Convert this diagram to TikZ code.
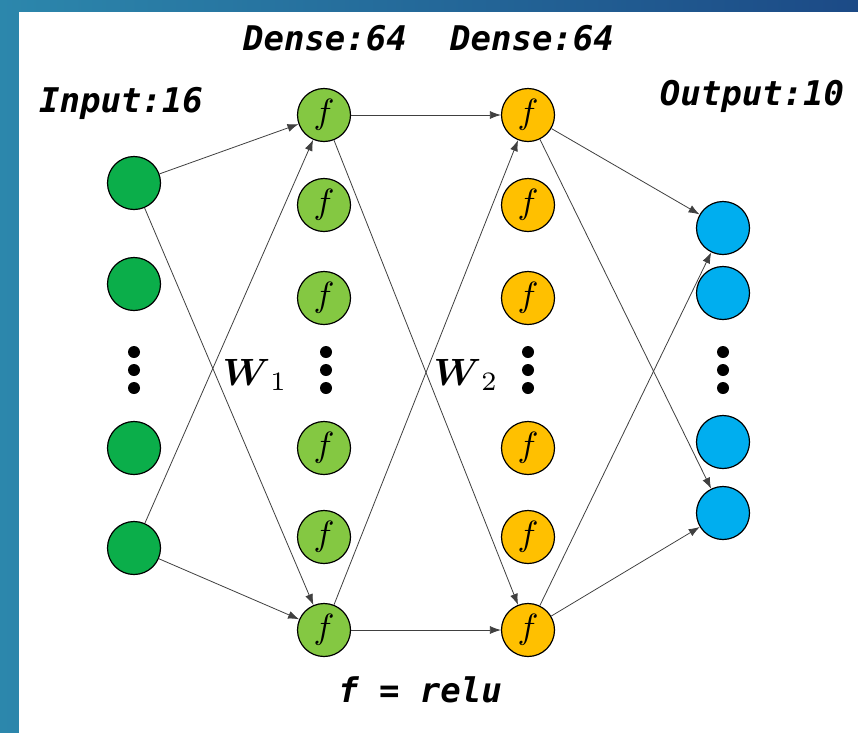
\documentclass[tikz,border=0pt]{standalone}
\usepackage{fontspec}
\usepackage{amsmath}
\usepackage{amssymb}
\usepackage{graphicx}
\usepackage{tikz}
\usetikzlibrary{arrows.meta}
\newfontfamily\codefont{DejaVu Sans Mono}
\newcommand{\act}{\scalebox{3.5}{$f$}}
\definecolor{inGreen}{HTML}{0BAE4A}
\definecolor{hidGreen}{HTML}{84C842}
\definecolor{hidGold}{HTML}{FFC000}
\definecolor{outBlue}{HTML}{00AEEF}
\definecolor{bgTeal}{HTML}{2C87AC}
\definecolor{bgNavy}{HTML}{1C4A86}

\begin{document}
\begin{tikzpicture}[x=1pt, y=-1pt,
                   unit/.style={circle, draw=black, line width=1.2pt, minimum size=53pt, inner sep=0pt},
                   title/.style={font=\codefont\bfseries\itshape\fontsize{34}{40}\selectfont},
                   conn/.style={-{Latex[length=11pt, width=8pt]}, draw=black!75, line width=0.8pt}]
\useasboundingbox (0,0) rectangle (858,732);
\shade[left color=bgTeal, right color=bgNavy] (0,0) rectangle (858,732);
\fill[white] (19,12) rectangle (862,736);

\node[unit, fill=inGreen] (i1) at (134,183) {};
\node[unit, fill=inGreen] (i2) at (134,284) {};
\node[unit, fill=inGreen] (i3) at (134,448) {};
\node[unit, fill=inGreen] (i4) at (134,548) {};

\node[unit, fill=hidGreen] (h1) at (324,115) {\act};
\node[unit, fill=hidGreen] (h2) at (324,205) {\act};
\node[unit, fill=hidGreen] (h3) at (324,298) {\act};
\node[unit, fill=hidGreen] (h4) at (324,448) {\act};
\node[unit, fill=hidGreen] (h5) at (324,537) {\act};
\node[unit, fill=hidGreen] (h6) at (324,630) {\act};

\node[unit, fill=hidGold] (g1) at (528,115) {\act};
\node[unit, fill=hidGold] (g2) at (528,205) {\act};
\node[unit, fill=hidGold] (g3) at (528,298) {\act};
\node[unit, fill=hidGold] (g4) at (528,448) {\act};
\node[unit, fill=hidGold] (g5) at (528,537) {\act};
\node[unit, fill=hidGold] (g6) at (528,630) {\act};

\node[unit, fill=outBlue] (o1) at (723,228) {};
\node[unit, fill=outBlue] (o2) at (723,293) {};
\node[unit, fill=outBlue] (o3) at (723,442) {};
\node[unit, fill=outBlue] (o4) at (723,513) {};

\foreach \x in {134,326,528,723}
  \foreach \y in {352,370,388}
    \fill (\x,\y) circle (6);

\node[title] (inLab) at (121,103) {Input:16};
\node[title] (d1Lab) at (325,38) {Dense:64};
\node[title] (d2Lab) at (532,38) {Dense:64};
\node[title] (outLab) at (752,96) {Output:10};
\node[title] (actLab) at (420,690) {f = relu};

\node (w1) at (255,375) {\scalebox{3.8}{$\boldsymbol{W}_1$}};
\node (w2) at (466,375) {\scalebox{3.8}{$\boldsymbol{W}_2$}};

\draw[conn] (i1) -- (h1);
\draw[conn] (i1) -- (h6);
\draw[conn] (i4) -- (h1);
\draw[conn] (i4) -- (h6);

\draw[conn] (h1) -- (g1);
\draw[conn] (h1) -- (g6);
\draw[conn] (h6) -- (g1);
\draw[conn] (h6) -- (g6);

\draw[conn] (g1) -- (o1);
\draw[conn] (g1) -- (o4);
\draw[conn] (g6) -- (o1);
\draw[conn] (g6) -- (o4);
\end{tikzpicture}
\end{document}
